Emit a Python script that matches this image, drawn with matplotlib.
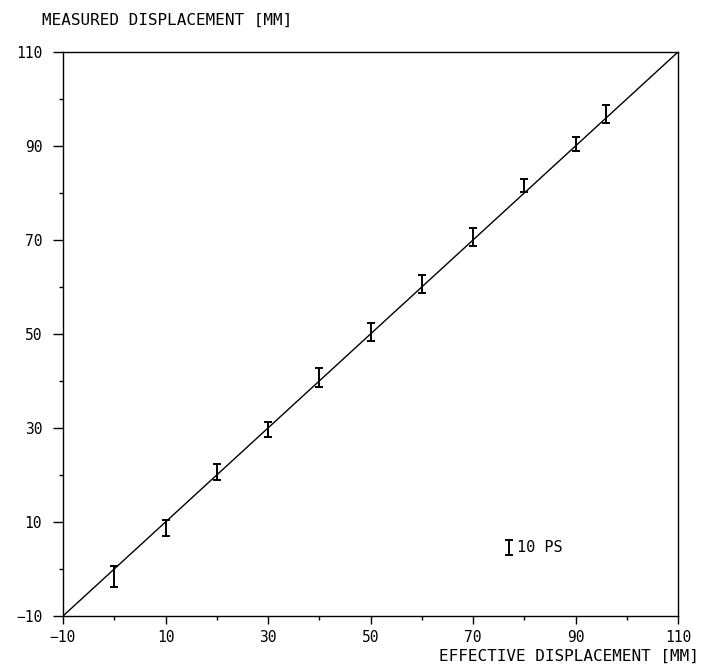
import numpy as np
import matplotlib
matplotlib.use("Agg")
import matplotlib.pyplot as plt

# valores
deslocamento_efetivo = [0, 10, 20, 30, 40, 50, 60, 70, 80, 90, 96]
deslocamento_medido = [-1.6, 8.7, 20.6, 29.7, 40.75, 50.4, 60.6, 70.6, 81.6, 90.4, 96.8]
erro = [2.2, 1.7, 1.7, 1.6, 2.05, 1.9, 1.95, 1.95, 1.4, 1.5, 1.9]

reta_x = [-10, 110]
reta_y = [-10, 110]

ticks_maiores = [-10, 10, 30, 50, 70, 90, 110]
ticks_menores = [0, 20, 40, 60, 80, 100]

escala_x, escala_y, escala_err = 77, 4.5, 1.6

plt.rcParams['font.family'] = ['DejaVu Sans Mono', 'DejaVu Sans']

fig = plt.figure(figsize=(7.02, 6.65), dpi=100)
ax = fig.add_axes([63 / 702, 1 - 616 / 665, 615 / 702, 564 / 665])

ax.plot(reta_x, reta_y, color='black', linewidth=1.0)
ax.errorbar(deslocamento_efetivo, deslocamento_medido, yerr=erro, fmt='none',
            ecolor='black', elinewidth=1.4, capsize=2.8, capthick=1.4)

# barra de escala "10 PS"
ax.errorbar([escala_x], [escala_y], yerr=[escala_err], fmt='none',
            ecolor='black', elinewidth=1.4, capsize=2.8, capthick=1.4)
ax.text(escala_x + 1.6, escala_y, "10 PS", fontsize=11, va='center', ha='left')

ax.set_xlim(-10, 110)
ax.set_ylim(-10, 110)
ax.set_xticks(ticks_maiores)
ax.set_yticks(ticks_maiores)
ax.set_xticks(ticks_menores, minor=True)
ax.set_yticks(ticks_menores, minor=True)
ax.tick_params(which='major', direction='out', length=6, width=1.0, labelsize=10.5, pad=4)
ax.tick_params(which='minor', direction='out', length=3, width=1.0)
ax.tick_params(axis='y', which='major', length=7, pad=8)

for s in ax.spines.values():
    s.set_linewidth(1.0)

fig.text(42 / 702, 1 - 20 / 665, "MEASURED DISPLACEMENT [MM]", fontsize=11.5,
         ha='left', va='center')
fig.text(699 / 702, 1 - 656 / 665, "EFFECTIVE DISPLACEMENT [MM]", fontsize=11.5,
         ha='right', va='center')

fig.savefig("out.png", dpi=100)
